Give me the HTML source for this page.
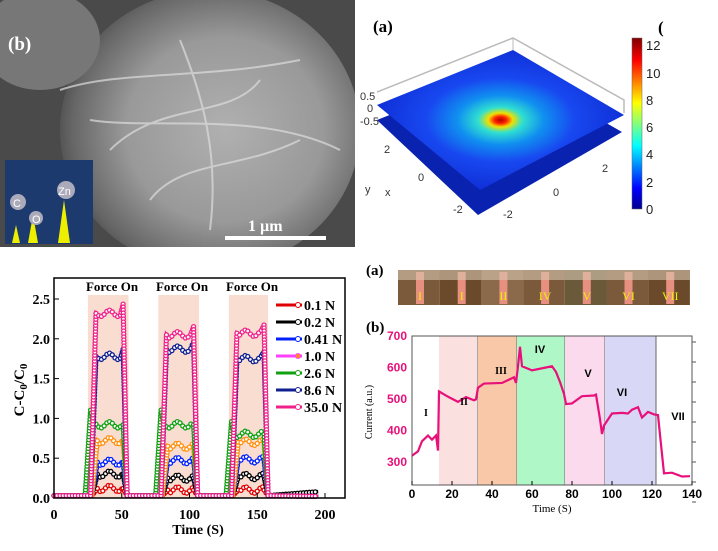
<!DOCTYPE html><html><head><meta charset="utf-8"><style>
body{margin:0;background:#fff;width:718px;height:551px;overflow:hidden;font-family:"Liberation Serif",serif}
svg{position:absolute;left:0;top:0}
</style></head><body>
<svg id="s" width="718" height="551" xmlns="http://www.w3.org/2000/svg">
<defs>
<clipPath id="semc"><rect x="0" y="0" width="355" height="247"/></clipPath>
<radialGradient id="sem" cx="0.55" cy="0.5" r="0.6"><stop offset="0" stop-color="#b0b0b0"/><stop offset="0.55" stop-color="#999"/><stop offset="0.85" stop-color="#666"/><stop offset="1" stop-color="#404040"/></radialGradient>
<radialGradient id="hot" cx="0.5" cy="0.5" r="0.5"><stop offset="0" stop-color="#b00000"/><stop offset="0.05" stop-color="#ff2000"/><stop offset="0.1" stop-color="#f0e000"/><stop offset="0.18" stop-color="#30e0d0"/><stop offset="0.35" stop-color="#1090f0"/><stop offset="0.6" stop-color="#1848f0"/><stop offset="1" stop-color="#1030d8"/></radialGradient>
<linearGradient id="cb" x1="0" y1="1" x2="0" y2="0"><stop offset="0" stop-color="#00008f"/><stop offset="0.12" stop-color="#0000ff"/><stop offset="0.37" stop-color="#00ffff"/><stop offset="0.62" stop-color="#ffff00"/><stop offset="0.87" stop-color="#ff0000"/><stop offset="1" stop-color="#800000"/></linearGradient>
</defs>
<!-- SEM -->
<g clip-path="url(#semc)">
<rect x="0" y="0" width="355" height="247" fill="#4a4a4a"/>
<ellipse cx="210" cy="130" rx="150" ry="140" fill="url(#sem)"/>
<ellipse cx="40" cy="40" rx="60" ry="50" fill="#777"/>
<g stroke="#ddd" stroke-width="2" fill="none" opacity="0.7">
<path d="M60 90 C120 70 200 80 300 60"/><path d="M110 150 C160 100 230 120 260 80"/><path d="M150 200 C180 160 240 170 300 140"/><path d="M180 40 C200 90 220 150 210 230"/><path d="M90 120 C150 130 260 110 340 150"/></g>
</g>
<rect x="5" y="160" width="88" height="84" fill="#1c3a6e"/>
<polygon points="12,243 16,225 20,243" fill="#ee0"/><polygon points="28,243 33,215 38,243" fill="#ee0"/><polygon points="58,243 64,200 70,243" fill="#ee0"/>
<circle cx="18" cy="202" r="8" fill="#aab"/><circle cx="36" cy="218" r="7" fill="#aab"/><circle cx="66" cy="190" r="9" fill="#aab"/>
<text x="13" y="207" font-size="11" fill="#fff" font-family="Liberation Sans">C</text><text x="32" y="223" font-size="11" fill="#fff" font-family="Liberation Sans">O</text><text x="58" y="195" font-size="11" fill="#fff" font-family="Liberation Sans">Zn</text>
<text x="8" y="50" font-size="19" font-weight="bold" fill="#fff">(b)</text>
<text x="248" y="231" font-size="16" font-weight="bold" fill="#fff">1 µm</text>
<rect x="225" y="236" width="101" height="4" fill="#fff"/>
<!-- 3D -->
<text x="373" y="32" font-size="17" font-weight="bold">(a)</text>
<text x="658" y="33" font-size="17" font-weight="bold">(</text>
<polygon points="377,120 510,68 622,132 478,215" fill="#0a22b0"/>
<polygon points="377,105 513,50 624,115 480,190" fill="url(#hot)"/>
<polyline points="377,92 513,38 624,100 624,113" fill="none" stroke="#bbb" stroke-width="1.5"/>
<line x1="513" y1="38" x2="513" y2="50" stroke="#bbb"/>
<g font-family="Liberation Sans" font-size="11" fill="#333">
<text x="360" y="100">0.5</text><text x="367" y="112">0</text><text x="360" y="125">-0.5</text><text x="384" y="153">2</text><text x="418" y="181">0</text><text x="453" y="213">-2</text><text x="553" y="196">0</text><text x="602" y="172">2</text><text x="503" y="218">-2</text><text x="365" y="193">y</text><text x="385" y="196">x</text></g>
<rect x="632" y="38" width="10" height="171" fill="url(#cb)" stroke="#666" stroke-width="0.5"/>
<g font-family="Liberation Sans" font-size="13" fill="#222">
<text x="646" y="50">12</text><text x="646" y="78">10</text><text x="646" y="105">8</text><text x="646" y="132">6</text><text x="646" y="159">4</text><text x="646" y="187">2</text><text x="646" y="214">0</text></g>
<g id="bl"></g>
<text x="366" y="275" font-size="15" font-weight="bold">(a)</text>
<text x="366" y="332" font-size="15" font-weight="bold">(b)</text>
<g id="br"></g>
</svg>
<script>
const S=document.getElementById('s'),NS='http://www.w3.org/2000/svg';
function el(p,t,a,txt){const e=document.createElementNS(NS,t);for(const k in a)e.setAttribute(k,a[k]);if(txt!==undefined)e.textContent=txt;p.appendChild(e);return e}
const bl=document.getElementById('bl');
const X=t=>54+t*271/200, Y=v=>498-v*79.6;
[[25,55],[77,107],[129,158]].forEach(([a,b])=>el(bl,'rect',{x:X(a),y:295,width:X(b)-X(a),height:203,fill:'#f9ddd0'}));
const series=[['#e00000',0.12,0.1,0.1],['#000',0.3,0.25,0.27],['#0020ff',0.45,0.47,0.48],['#ff9010',0.72,0.65,0.7],['#10a010',0.92,0.92,0.8],['#102090',1.78,1.87,1.75],['#f0208a',2.32,2.05,2.07]];
const starts=[[25,51],[77,103],[129,155]];
series.forEach(([c,...lv],si)=>{
 let pts=[];pts.push([0,0.03]);
 starts.forEach(([a,b],k)=>{const v=lv[k];const on=a+(si==4?-2:si>=5?2:3);
  pts.push([on,0.03]);pts.push([on+4,v*(si==4?1.2:1)]);
  for(let t=on+6;t<b;t+=2)pts.push([t,v+0.04*Math.sin(t*0.5)]);
  pts.push([b,v*(si>=5?1.05:1)]);pts.push([b+3,0.03]);});
 pts.push([195,si==1?0.08:0.02]);
 const d=pts.map(p=>X(p[0]).toFixed(1)+','+Y(p[1]).toFixed(1)).join(' ');
 el(bl,'polyline',{points:d,fill:'none',stroke:c,'stroke-width':3.5});
 for(let i=1;i<pts.length;i++){const[p,q]=[pts[i-1],pts[i]];const n=Math.max(1,Math.round(Math.hypot(X(q[0])-X(p[0]),Y(q[1])-Y(p[1]))/3));
  for(let j=0;j<n;j++){const f=j/n;el(bl,'circle',{cx:X(p[0]+(q[0]-p[0])*f),cy:Y(p[1]+(q[1]-p[1])*f),r:2,fill:'#fff',stroke:c,'stroke-width':1.3})}}
});
el(bl,'rect',{x:54,y:278,width:291,height:220,fill:'none',stroke:'#000','stroke-width':1.5});
[0,50,100,150,200].forEach(t=>{el(bl,'line',{x1:X(t),y1:498,x2:X(t),y2:493,stroke:'#000'});el(bl,'text',{x:X(t),y:519,'font-size':14,'font-weight':'bold','text-anchor':'middle'},t)});
[0,0.5,1,1.5,2,2.5].forEach(v=>{el(bl,'line',{x1:54,y1:Y(v),x2:59,y2:Y(v),stroke:'#000'});el(bl,'text',{x:50,y:Y(v)+5,'font-size':14,'font-weight':'bold','text-anchor':'end'},v.toFixed(1))});
el(bl,'text',{x:198,y:534,'font-size':14,'font-weight':'bold','text-anchor':'middle'},'Time (S)');
const yl=el(bl,'text',{x:0,y:0,'font-size':15,'font-weight':'bold','text-anchor':'middle',transform:'translate(24,390) rotate(-90)'});yl.innerHTML='C-C<tspan font-size="11" dy="3">0</tspan><tspan dy="-3">/C</tspan><tspan font-size="11" dy="3">0</tspan>';
['Force On','Force On','Force On'].forEach((s,i)=>el(bl,'text',{x:[112,182,252][i],y:291,'font-size':13,'font-weight':'bold','text-anchor':'middle'},s));
const lg=['0.1 N','0.2 N','0.41 N','1.0 N','2.6 N','8.6 N','35.0 N'],lc=['#e00000','#000','#0020ff','#ff40ff','#10a010','#102090','#f0208a'];
lg.forEach((s,i)=>{const y=305+i*17;el(bl,'line',{x1:276,y1:y,x2:302,y2:y,stroke:lc[i],'stroke-width':3});el(bl,'circle',{cx:298,cy:y,r:2.5,fill:i==3?'#ff9010':'#fff',stroke:lc[i]});el(bl,'text',{x:304,y:y+5,'font-size':14,'font-weight':'bold'},s)});
const br=document.getElementById('br');
const cols=['#7a5a3a','#6a4a2a','#8a6a4a','#7a5a3a','#6a5a3a','#7a5a3a','#6a4a2a'],rl=['I','I','II','IV','V','VI','VII'];
for(let i=0;i<7;i++){const x=398+i*41.7;el(br,'rect',{x:x,y:270,width:41.7,height:35,fill:cols[i]});el(br,'rect',{x:x+18,y:272,width:8,height:32,fill:'#e89080'});el(br,'rect',{x:x,y:270,width:41.7,height:10,fill:'#d8c8b0',opacity:0.6});el(br,'text',{x:x+22,y:300,'font-size':12,fill:'#ee0','text-anchor':'middle'},rl[i])}
const XX=t=>412+t*2, YY=v=>336+(700-v)*0.315;
[[13.5,33,'#fbe0e0'],[33,52.5,'#f9c8a8'],[52.5,76.5,'#b0f7c8'],[76.5,96.5,'#fbdaee'],[96.5,122,'#d8d8f6']].forEach(([a,b,c])=>{el(br,'rect',{x:XX(a),y:336,width:XX(b)-XX(a),height:149,fill:c});el(br,'line',{x1:XX(b),y1:336,x2:XX(b),y2:485,stroke:'#666'})});
const cd=[[0,320],[3,330],[5,370],[8,380],[10,375],[12,380],[13,340],[13.5,520],[17,515],[19,500],[23,495],[27,502],[31,500],[32,495],[33,540],[36,545],[45,555],[51,565],[52,555],[53,600],[54,670],[55,600],[60,595],[70,600],[72,590],[74,550],[76,520],[77,480],[80,490],[85,505],[91,515],[92,510],[94,440],[95,385],[96,420],[100,450],[105,460],[108,450],[110,470],[113,470],[115,445],[118,455],[121,455],[123,445],[124,390],[126,260],[130,270],[135,250],[139,255]];
let d='';cd.forEach((p,i)=>{const j=(i%2?4:-4);d+=XX(p[0])+','+YY(p[1]+(i>0&&i<cd.length-1?j:0))+' '});
el(br,'polyline',{points:d,fill:'none',stroke:'#e8107a','stroke-width':2.2});
el(br,'rect',{x:412,y:336,width:280,height:149,fill:'none',stroke:'#555'});
[0,20,40,60,80,100,120,140].forEach(t=>{el(br,'line',{x1:XX(t),y1:485,x2:XX(t),y2:481,stroke:'#000'});el(br,'text',{x:XX(t),y:498,'font-size':12,'font-weight':'bold','text-anchor':'middle','font-family':'Liberation Sans'},t)});
[300,400,500,600,700].forEach(v=>el(br,'text',{x:407,y:YY(v)+4,'font-size':12,'font-weight':'bold','text-anchor':'end',fill:'#e8107a','font-family':'Liberation Sans'},v));
for(let k=0;k<9;k++)el(br,'line',{x1:692,y1:342+k*20,x2:696,y2:342+k*20,stroke:'#555'});
el(br,'text',{x:0,y:0,'font-size':10,transform:'translate(372,412) rotate(-90)','text-anchor':'middle'},'Current (a.u.)');
el(br,'text',{x:552,y:512,'font-size':11,'text-anchor':'middle'},'Time (S)');
[['I',426,416,'serif'],['II',464,405,'serif'],['III',501,374,'serif'],['IV',540,353,'sans'],['V',588,377,'sans'],['VI',622,396,'sans'],['VII',678,420,'sans']].forEach(([s,x,y,f])=>el(br,'text',{x:x,y:y,'font-size':f=='sans'?11:10,'font-weight':'bold','font-family':f=='sans'?'Liberation Sans':'Liberation Serif','text-anchor':'middle'},s));
</script>
</body></html>
